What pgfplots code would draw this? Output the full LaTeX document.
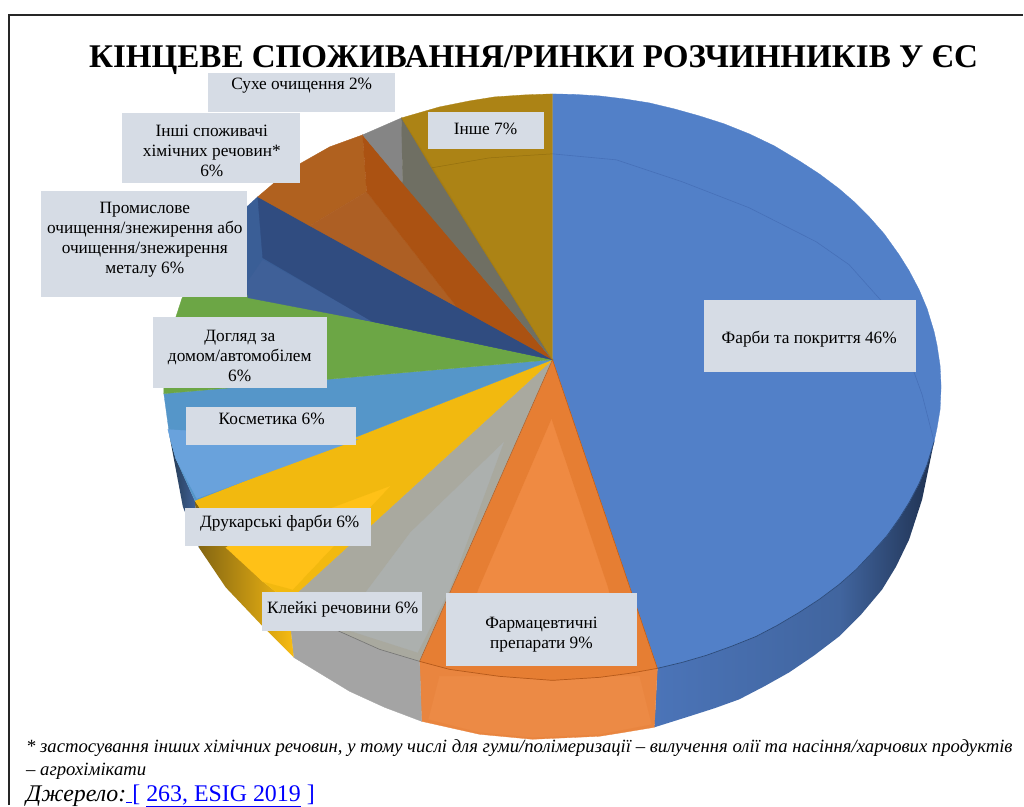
\documentclass[border=0pt]{standalone}
\usepackage{fontspec}
\setmainfont{Liberation Serif}
\usepackage{pgfplots}
\pgfplotsset{compat=1.18}
\definecolor{boxc}{HTML}{D6DCE5}
\definecolor{blueA}{HTML}{5280C8}
\definecolor{blueL}{HTML}{4670B8}
\definecolor{blueS}{HTML}{4B74B8}
\definecolor{blueM}{HTML}{41659F}
\definecolor{blueD}{HTML}{1F3150}
\definecolor{blueR}{HTML}{2C4A78}
\definecolor{orgS}{HTML}{E9853F}
\definecolor{orgSL}{HTML}{EC8A45}
\definecolor{orgD}{HTML}{E67E33}
\definecolor{orgL}{HTML}{EF8A42}
\definecolor{orgLine}{HTML}{B5591A}
\definecolor{grayS}{HTML}{A4A4A4}
\definecolor{grayA}{HTML}{A9A99F}
\definecolor{grayB}{HTML}{ACB0AE}
\definecolor{yelA}{HTML}{F2B90F}
\definecolor{yelB}{HTML}{FFC117}
\definecolor{yelS}{HTML}{F8BC12}
\definecolor{yelD}{HTML}{7F6212}
\definecolor{cyanA}{HTML}{5596C9}
\definecolor{cyanB}{HTML}{69A2DC}
\definecolor{sideD}{HTML}{263B52}
\definecolor{grnA}{HTML}{6CA645}
\definecolor{navyA}{HTML}{304C80}
\definecolor{navyB}{HTML}{3F6098}
\definecolor{navyC}{HTML}{3A5E96}
\definecolor{brnA}{HTML}{AB5212}
\definecolor{brnB}{HTML}{AD5F24}
\definecolor{brnC}{HTML}{B0611F}
\definecolor{sliA}{HTML}{858585}
\definecolor{sliB}{HTML}{6F6F63}
\definecolor{ambA}{HTML}{AC8315}
\definecolor{ambC}{HTML}{A67D14}
\definecolor{ambL}{HTML}{94700F}
\newcommand{\poly}[2]{\addplot[fill=#1,draw=#1,line width=0.3pt] coordinates {#2} --cycle;}
\newcommand{\lbox}[4]{\addplot[fill=boxc,draw=none] coordinates {(#1,#3) (#2,#3) (#2,#4) (#1,#4)} --cycle;}
\newcommand{\lbl}{\fontsize{17.3}{20}\selectfont}
\begin{document}
\begin{tikzpicture}
\begin{axis}[
    scale only axis,
    width=1024pt,
    height=806pt,
    xmin=0, xmax=1024,
    ymin=0, ymax=806,
    y dir=reverse,
    hide axis,
    no markers,
    clip=false
]
% page, sets the bounding box
\addplot[fill=white,draw=none] coordinates {(0,0) (1024,0) (1024,806) (0,806)} --cycle;
% frame, no right or bottom line
\addplot[line width=2pt,color=black!85] coordinates {(9,806) (9,15) (1024,15)};

% side faces
\addplot[left color=blueS,right color=blueM,draw=none] coordinates {(658,669) (683,663) (707,656) (732,647) (757,637) (778,626) (800,613) (820,600) (840,585) (840,637) (815,656) (790,673) (765,687) (740,700) (715,709) (690,717) (655,728)} --cycle;
\addplot[left color=blueM,right color=blueD,draw=none] coordinates {(840,585) (857,570) (873,553) (888,536) (900,519) (910,503) (920,484) (928,465) (935,442) (923,500) (910,540) (897,567) (883,590) (862,615) (840,637)} --cycle;
\poly{orgS}{(420,662) (450,670) (500,677) (553,681) (600,678) (630,674) (658,669) (655,728) (625,733) (600,737) (533,740) (480,735) (422,722)}
\poly{orgSL}{(440,677) (640,677) (652,725) (600,735) (533,738) (480,733) (429,720)}
\poly{grayS}{(288,602) (333,629) (380,650) (420,662) (422,722) (385,708) (350,692) (294,658)}
\addplot[left color=yelD,right color=yelS,draw=none] coordinates {(195,501) (222,541) (263,582) (288,602) (294,658) (263,627) (226,588) (199,548)} --cycle;
\addplot[left color=sideD,right color=blueM,draw=none] coordinates {(170,438) (176,459) (195,501) (199,548) (183,507)} --cycle;

% top: paints
\poly{blueA}{(553,360) (553,94) (575,94.5) (600,96) (625,99) (650,103) (675,109) (700,116) (725,124) (750,134) (775,146) (800,161) (820,174) (840,189) (855,202) (870,217) (885,234) (900,255) (910,271) (920,290) (928,309) (935,332) (938,346) (941,366) (942,387) (941,410) (938,428) (935,442) (928,465) (920,484) (910,503) (900,519) (888,536) (873,553) (857,570) (840,585) (820,600) (800,613) (778,626) (757,637) (732,647) (707,656) (683,663) (658,669)}
% top: pharma
\poly{orgD}{(553,360) (658,669) (630,674) (600,678) (553,681) (500,677) (450,670) (420,662)}
\poly{orgL}{(552,420) (608,587) (625,650) (460,650) (479,590)}
% top: adhesives
\poly{grayA}{(553,360) (420,662) (380,650) (333,629) (288,602)}
\poly{grayB}{(504,443) (411,533) (340,628) (418,653) (450,590)}
% top: inks
\poly{yelA}{(553,360) (288,602) (263,582) (222,541) (195,501)}
\poly{yelB}{(390,487) (293,590) (263,582) (226,548)}
% top: cosmetics
\poly{cyanA}{(553,360) (195,501) (176,459) (170,438) (164,394)}
\poly{cyanB}{(358,440) (197,499) (176,459) (168,430)}
% top: household
\poly{grnA}{(553,360) (164,394) (164,387) (170,336) (182,299) (190,283)}
% top: industrial cleaning
\poly{navyC}{(553,360) (190,283) (215,242) (235,218) (258,197)}
\poly{navyB}{(263,260) (373,322) (248,298) (248,282)}
\poly{navyA}{(258,197) (553,360) (373,322) (263,258)}
% top: other chemical users
\poly{brnC}{(258,197) (278,180) (300,164) (330,147) (363,135) (367,192) (310,226)}
\poly{brnB}{(310,226) (367,192) (457,307)}
\poly{brnA}{(363,135) (553,360) (457,307) (367,192)}
% top: dry cleaning
\poly{sliA}{(363,135) (402,118) (403,183)}
\poly{sliB}{(402,118) (553,360) (403,183)}
% top: other
\poly{ambA}{(402,118) (440,107) (470,101) (495,97) (525,95) (553,94) (553,360)}
\poly{ambC}{(402,118) (553,360) (432,168)}

% bevel and rim lines
\addplot[line width=0.6pt,color=blueL] coordinates {(553,154) (617,160) (683,182) (750,208) (817,242) (850,265) (883,302) (905,345) (923,395) (935,442)};
\addplot[line width=0.5pt,color=ambL] coordinates {(432,168) (490,158) (553,154)};
\addplot[line width=0.7pt,color=blueR] coordinates {(935,442) (928,465) (920,484) (910,503) (900,519) (888,536) (873,553) (857,570) (840,585) (820,600) (800,613) (778,626) (757,637) (732,647) (707,656) (683,663) (658,669)};
\addplot[line width=0.7pt,color=orgLine] coordinates {(420,662) (450,670) (500,677) (553,681) (600,678) (630,674) (658,669)};
\addplot[line width=0.6pt,color=black!55] coordinates {(333,629) (380,650) (420,662)};
\addplot[line width=0.5pt,color=orgLine] coordinates {(553,360) (420,662)};
\addplot[line width=0.5pt,color=orgLine] coordinates {(553,360) (658,669)};

% label boxes
\lbox{208}{395}{73}{112}
\lbox{428}{545}{112}{149}
\lbox{122}{300}{113}{183}
\lbox{41}{247}{191}{297}
\lbox{153}{327}{317}{388}
\lbox{186}{356}{407}{445}
\lbox{185}{371}{508}{547}
\lbox{262}{422}{593}{632}
\lbox{446}{638}{594}{667}
\lbox{705}{917}{300}{372}

% title
\node[font=\bfseries\fontsize{33.1}{36}\selectfont,anchor=center] at (axis cs:534,60) {КІНЦЕВЕ СПОЖИВАННЯ/РИНКИ РОЗЧИННИКІВ У ЄС};

% labels
\node[font=\lbl,align=center] at (axis cs:302,86) {Сухе очищення 2\%};
\node[font=\lbl,align=center] at (axis cs:486,129) {Інше 7\%};
\node[font=\lbl,align=center] at (axis cs:212,151) {Інші споживачі\\хімічних речовин*\\6\%};
\node[font=\lbl,align=center] at (axis cs:145,240) {Промислове\\очищення/знежирення або\\очищення/знежирення\\металу 6\%};
\node[font=\lbl,align=center] at (axis cs:240,356) {Догляд за\\домом/автомобілем\\6\%};
\node[font=\lbl,align=center] at (axis cs:272,419) {Косметика 6\%};
\node[font=\lbl,align=center] at (axis cs:280,524) {Друкарські фарби 6\%};
\node[font=\lbl,align=center] at (axis cs:343,610) {Клейкі речовини 6\%};
\node[font=\lbl,align=center] at (axis cs:542,635) {Фармацевтичні\\препарати 9\%};
\node[font=\lbl,align=center] at (axis cs:810,339) {Фарби та покриття 46\%};

% footnote and source
\node[font=\itshape\fontsize{18.7}{22}\selectfont,anchor=base west,inner sep=0pt] at (axis cs:26,753) {* застосування інших хімічних речовин, у тому числі для гуми/полімеризації – вилучення олії та насіння/харчових продуктів};
\node[font=\itshape\fontsize{18.7}{22}\selectfont,anchor=base west,inner sep=0pt] at (axis cs:26,776) {– агрохімікати};
\node[font=\fontsize{23.9}{26}\selectfont,anchor=base west,inner sep=0pt] at (axis cs:26,802) {\textit{Джерело:}\textcolor{blue}{\underline{\ }[ \underline{263, ESIG 2019} ]}};
\end{axis}
\end{tikzpicture}
\end{document}
